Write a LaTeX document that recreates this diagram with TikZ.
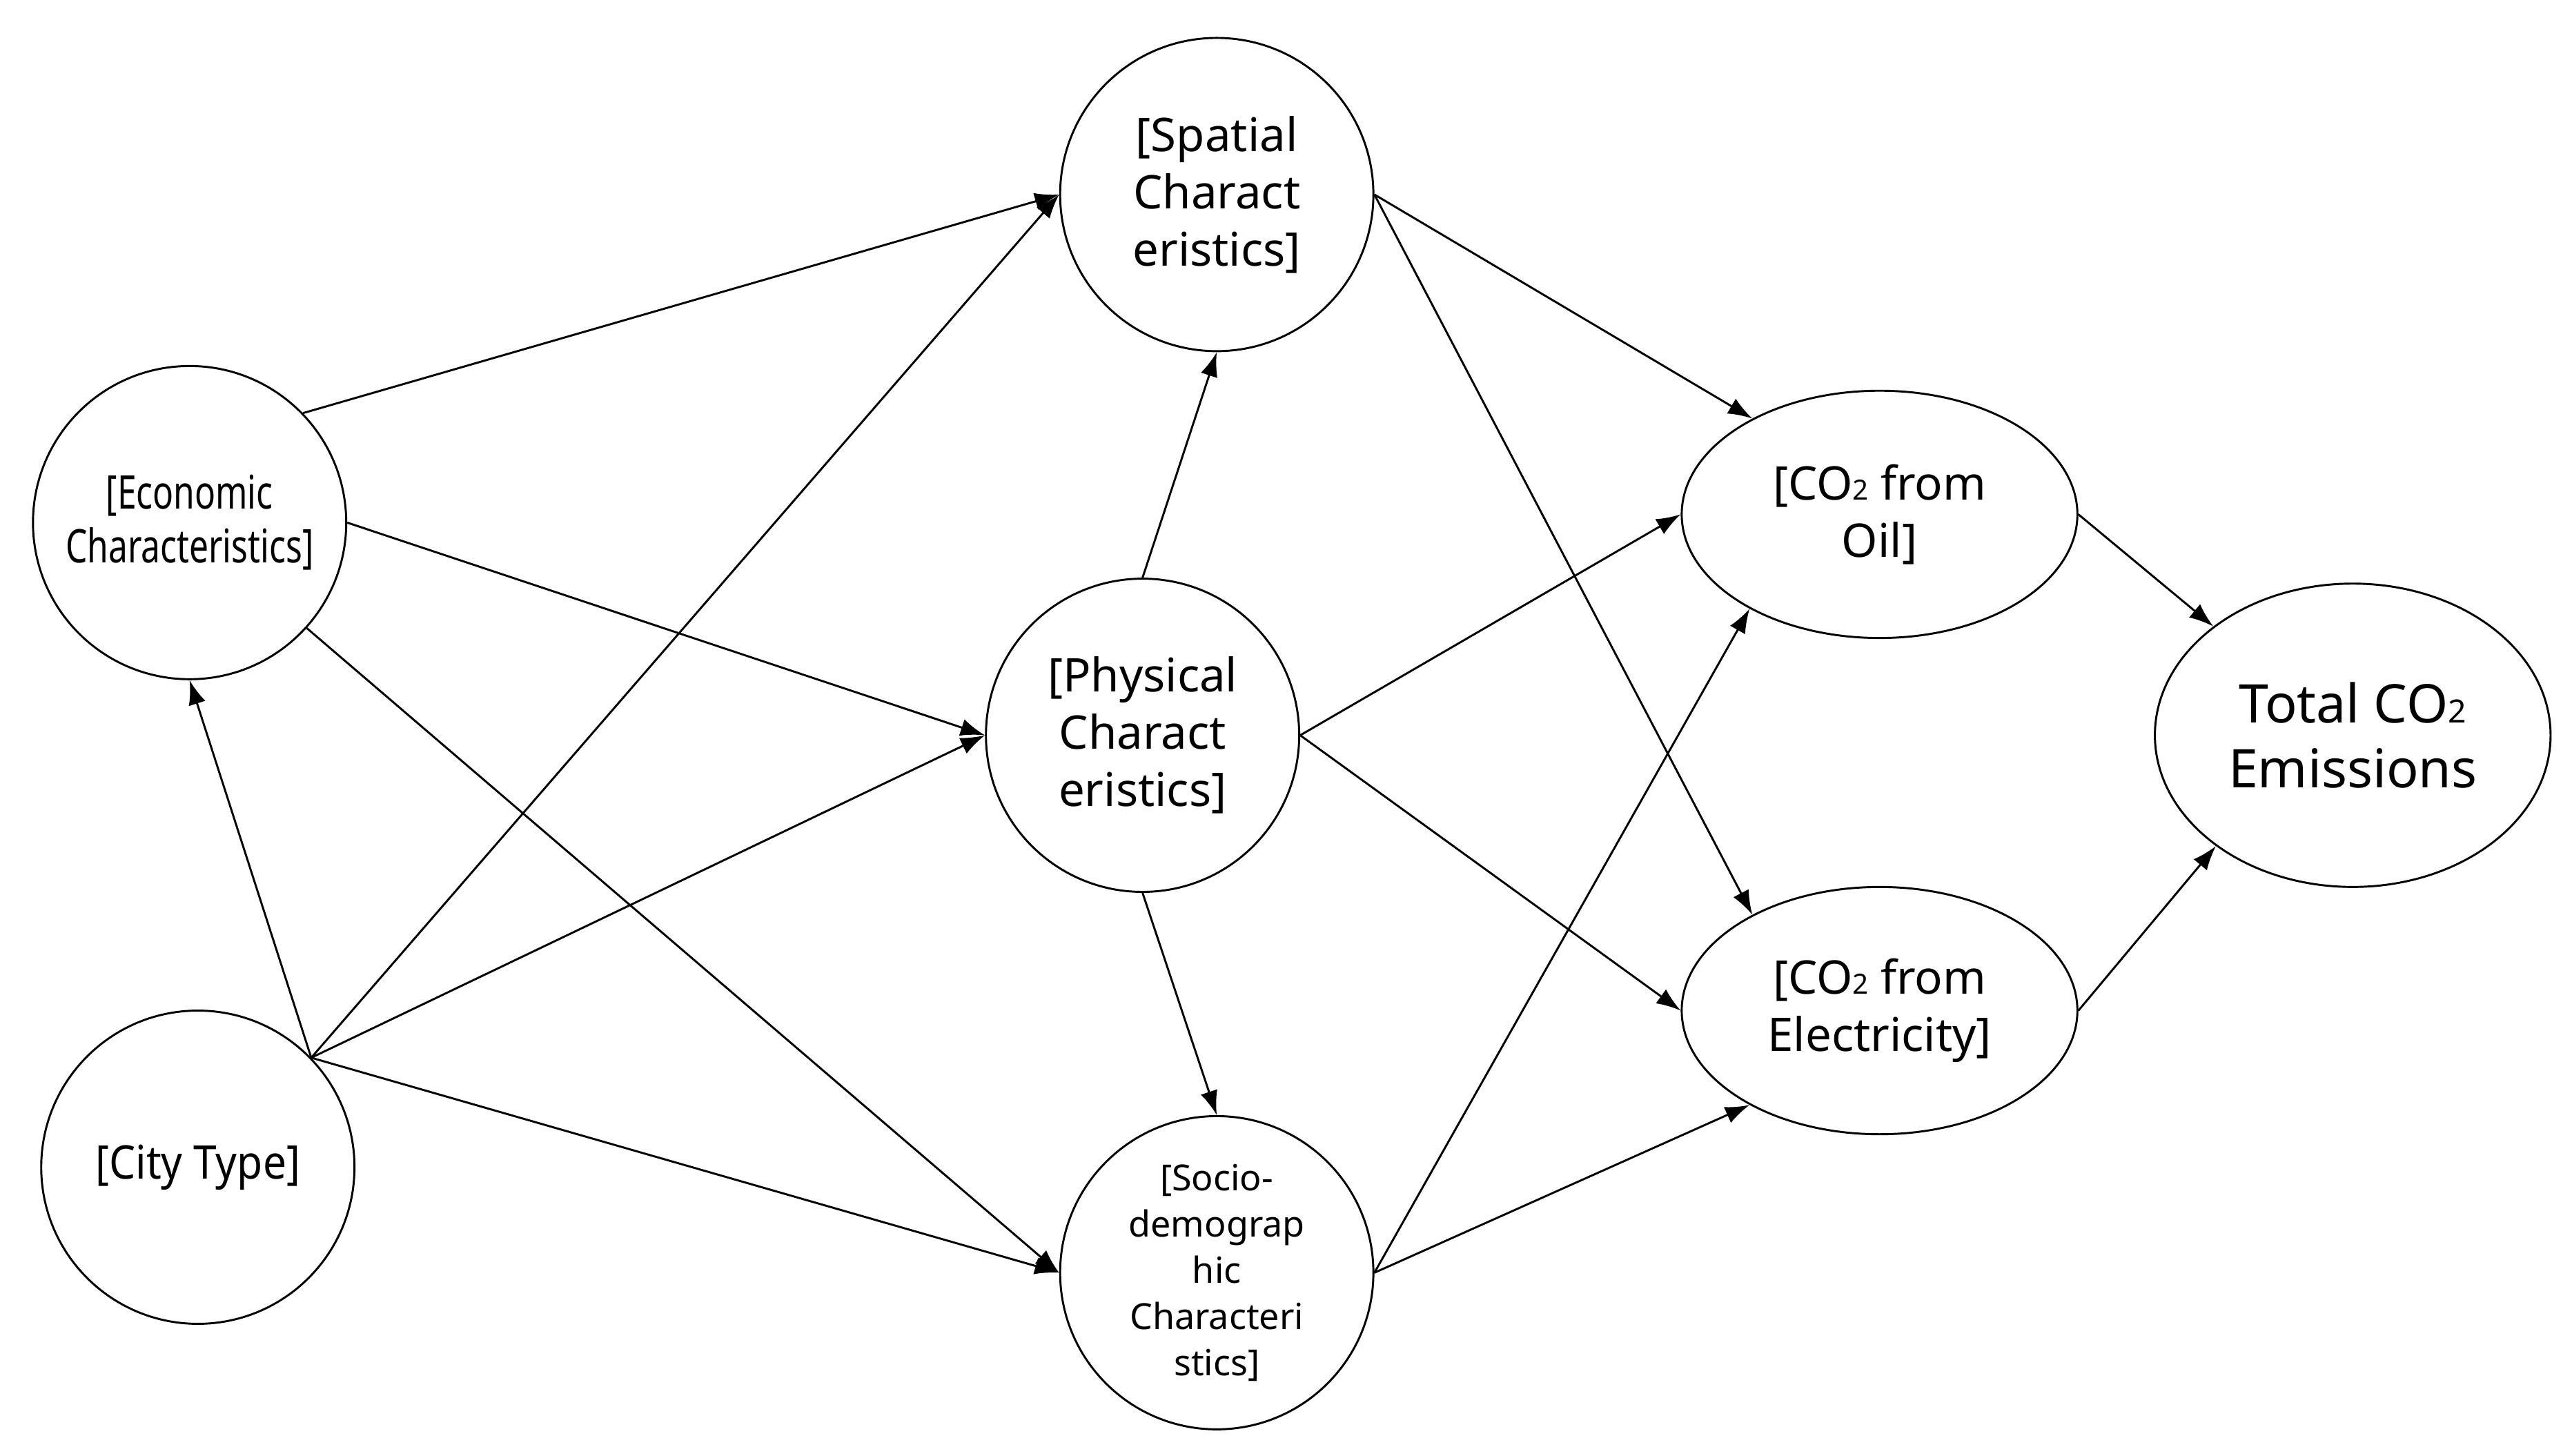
\documentclass[tikz,border=0pt]{standalone}
\usepackage{fontspec}
\setmainfont{Noto Sans}
\usetikzlibrary{shapes.geometric,arrows.meta}
\newcommand\cotwo{CO\scalebox{0.6}{2}}
\begin{document}
\begin{tikzpicture}[x=0.1cm,y=-0.1cm,
  every node/.style={draw,line width=3.5pt,align=center,inner sep=0pt},
  circ/.style={circle,minimum size=190*0.1cm},
  ell/.style={ellipse,minimum width=240*0.1cm,minimum height=150*0.1cm},
  big/.style={font=\fontsize{80}{99}\selectfont},
  arr/.style={-{Latex[length=42pt,width=30pt]},line width=3.5pt}]
\useasboundingbox (0,0) rectangle (1560,883);
\node[circ,big] (econ) at (115,317) {\scalebox{0.74}[1]{[Economic}\\[-6pt]\scalebox{0.74}[1]{Characteristics]}};
\node[circ,big] (city) at (120,708) {\scalebox{0.9}[1]{[City Type]}};
\node[circ,big] (spat) at (738,118) {[Spatial\\Charact\\eristics]};
\node[circ,big] (phys) at (693,446) {[Physical\\Charact\\eristics]};
\node[circ,font=\fontsize{62}{80}\selectfont] (socio) at (738,772) {[Socio-\\demograp\\hic\\Characteri\\stics]};
\node[ell,big] (oil) at (1140,312) {[\cotwo{} from\\Oil]};
\node[ell,big] (elec) at (1140,613) {[\cotwo{} from\\Electricity]};
\node[ellipse,minimum width=240*0.1cm,minimum height=184*0.1cm,font=\fontsize{92}{112}\selectfont] (tot) at (1427,446) {Total \cotwo\\Emissions};
\coordinate (c0) at (city.44);
\draw[arr] (econ.44) -- (spat.180);
\draw[arr] (econ.0) -- (phys.180);
\draw[arr] (econ.-42) -- (socio.180);
\draw[arr] (c0) -- (econ.-90);
\draw[arr] (c0) -- (spat.180);
\draw[arr] (c0) -- (phys.180);
\draw[arr] (c0) -- (socio.180);
\draw[arr] (phys.90) -- (spat.-90);
\draw[arr] (phys.-90) -- (socio.90);
\draw[arr] (spat.0) -- (oil.143);
\draw[arr] (spat.0) -- (elec.143);
\draw[arr] (phys.0) -- (oil.180);
\draw[arr] (phys.0) -- (elec.180);
\draw[arr] (socio.0) -- (oil.216);
\draw[arr] (socio.0) -- (elec.216);
\draw[arr] (oil.0) -- (tot.142);
\draw[arr] (elec.0) -- (tot.219);
\end{tikzpicture}
\end{document}
